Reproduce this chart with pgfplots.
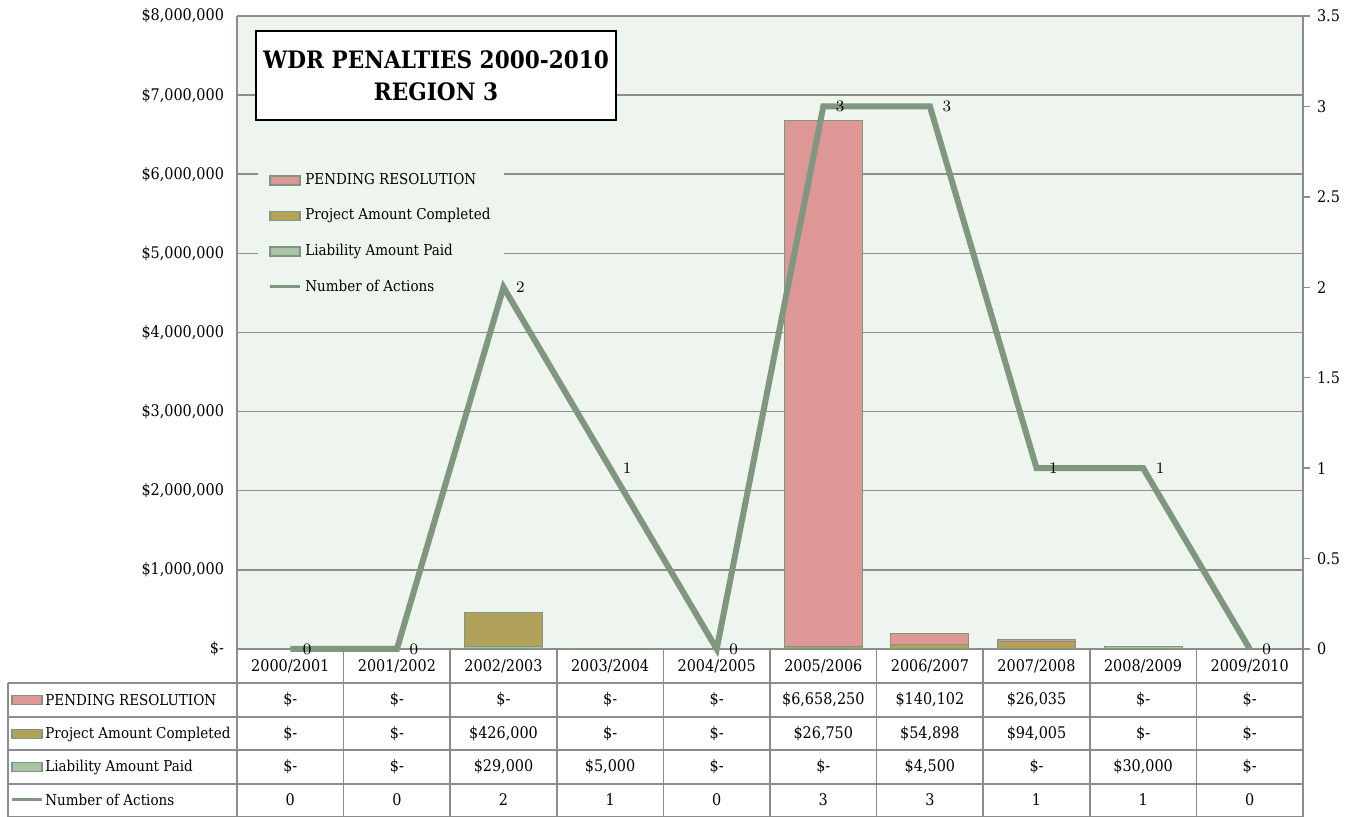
\documentclass[border=0pt]{standalone}
\usepackage{fontspec}
\setmainfont{DejaVu Serif Condensed}
\usepackage{pgfplots}
\pgfplotsset{compat=1.18}

\definecolor{bgc}{HTML}{EEF5EE}
\definecolor{pinkc}{HTML}{DD9797}
\definecolor{olivec}{HTML}{B1A15A}
\definecolor{greenc}{HTML}{A9C4A5}
\definecolor{linec}{HTML}{7F967F}
\definecolor{gridc}{HTML}{8C8C8C}

\pgfplotsset{
  barleg/.style={legend image code/.code={\draw[##1] (0pt,-2.25pt) rectangle (15pt,2.25pt);}},
  lineleg/.style={legend image code/.code={\draw[##1] (0pt,0pt) -- (15pt,0pt);}},
}

\begin{document}
\begin{tikzpicture}
% money axis (left)
\begin{axis}[
  at={(0,0)}, anchor=south west, scale only axis,
  width=533pt, height=316.5pt,
  xmin=-0.5, xmax=9.5, ymin=0, ymax=8000000,
  axis background/.style={fill=bgc},
  ybar stacked, bar width=39pt,
  xtick=\empty,
  ytick={0,1000000,2000000,3000000,4000000,5000000,6000000,7000000,8000000},
  yticklabels={{\$-},{\$1,000,000},{\$2,000,000},{\$3,000,000},{\$4,000,000},{\$5,000,000},{\$6,000,000},{\$7,000,000},{\$8,000,000}},
  scaled y ticks=false,
  ymajorgrids, grid style={gridc, line width=0.75pt},
  axis x line*=bottom, axis y line*=left,
  axis line style={gridc, line width=0.75pt, -},
  major tick length=0pt,
  yticklabel style={font=\fontsize{8}{9}\selectfont, xshift=-3pt},
  legend style={at={(0.0197,0.7775)}, anchor=north west, fill=bgc, draw=none,
    font=\fontsize{7.5}{9}\selectfont, row sep=6.6pt, inner xsep=5pt, inner ysep=6pt},
  legend cell align=left,
]
\addplot[fill=greenc, draw=linec, line width=0.5pt, forget plot] coordinates {(0,0) (1,0) (2,29000) (3,5000) (4,0) (5,0) (6,4500) (7,0) (8,30000) (9,0)};
\addplot[fill=olivec, draw=linec, line width=0.5pt, forget plot] coordinates {(0,0) (1,0) (2,426000) (3,0) (4,0) (5,26750) (6,54898) (7,94005) (8,0) (9,0)};
\addplot[fill=pinkc, draw=linec, line width=0.5pt, forget plot] coordinates {(0,0) (1,0) (2,0) (3,0) (4,0) (5,6658250) (6,140102) (7,26035) (8,0) (9,0)};
\addlegendimage{barleg, fill=pinkc, draw=linec, line width=0.75pt}
\addlegendentry{PENDING RESOLUTION}
\addlegendimage{barleg, fill=olivec, draw=linec, line width=0.75pt}
\addlegendentry{Project Amount Completed}
\addlegendimage{barleg, fill=greenc, draw=linec, line width=0.75pt}
\addlegendentry{Liability Amount Paid}
\addlegendimage{lineleg, draw=linec, line width=1.5pt}
\addlegendentry{Number of Actions}
\end{axis}
% count axis (right)
\begin{axis}[
  at={(0,0)}, anchor=south west, scale only axis,
  width=533pt, height=316.5pt,
  xmin=-0.5, xmax=9.5, ymin=0, ymax=3.5,
  axis x line=none, axis y line*=right,
  axis line style={gridc, line width=0.75pt, -},
  ytick={0,0.5,1,1.5,2,2.5,3,3.5},
  yticklabels={0,0.5,1,1.5,2,2.5,3,3.5},
  tick align=outside, major tick length=3.5pt,
  tick style={gridc, line width=0.75pt},
  yticklabel style={font=\fontsize{8}{9}\selectfont},
  clip=false,
]
\addplot[linec, line width=3pt, nodes near coords,
  every node near coord/.append style={anchor=west, xshift=1.5pt, black, font=\fontsize{8}{9}\selectfont}]
  coordinates {(0,0) (1,0) (2,2) (3,1) (4,0) (5,3) (6,3) (7,1) (8,1) (9,0)};
\end{axis}
% table and title, in pixel units of the reference
\begin{scope}[x=0.5pt, y=-0.5pt, shift={(-118.5pt,324.5pt)}]
\path[use as bounding box] (0,0) rectangle (1358,817);
\node[draw=black, line width=0.75pt, fill=white, minimum width=180pt, minimum height=44.5pt,
  inner xsep=1pt, align=center, font=\fontsize{12}{16}\selectfont\bfseries] at (436,75.5)
  {WDR PENALTIES 2000-2010\\REGION 3};
% grid of the data table
\foreach \k in {0,...,10} \draw[gridc, line width=0.75pt] ({237+106.6*\k},649) -- ({237+106.6*\k},817);
\foreach \yy in {683,717,750,784,817} \draw[gridc, line width=0.75pt] (8,\yy) -- (1303,\yy);
\draw[gridc, line width=0.75pt] (8,683) -- (8,817);
\begin{scope}[font=\fontsize{8}{9}\selectfont]
\foreach \c [count=\i from 0] in {2000/2001,2001/2002,2002/2003,2003/2004,2004/2005,2005/2006,2006/2007,2007/2008,2008/2009,2009/2010}
  \node at ({237+106.6*(\i+0.5)},666) {\c};
\foreach \v [count=\i from 0] in {{\$-},{\$-},{\$-},{\$-},{\$-},{\$6,658,250},{\$140,102},{\$26,035},{\$-},{\$-}}
  \node at ({237+106.6*(\i+0.5)},700) {\v};
\foreach \v [count=\i from 0] in {{\$-},{\$-},{\$426,000},{\$-},{\$-},{\$26,750},{\$54,898},{\$94,005},{\$-},{\$-}}
  \node at ({237+106.6*(\i+0.5)},734) {\v};
\foreach \v [count=\i from 0] in {{\$-},{\$-},{\$29,000},{\$5,000},{\$-},{\$-},{\$4,500},{\$-},{\$30,000},{\$-}}
  \node at ({237+106.6*(\i+0.5)},767) {\v};
\foreach \v [count=\i from 0] in {0,0,2,1,0,3,3,1,1,0}
  \node at ({237+106.6*(\i+0.5)},800) {\v};
\end{scope}
% row keys
\begin{scope}[font=\fontsize{7.5}{9}\selectfont]
\draw[fill=pinkc, draw=linec, line width=0.75pt] (12,695.5) rectangle (42,704.5);
\node[anchor=west, inner sep=0pt] at (45,700) {PENDING RESOLUTION};
\draw[fill=olivec, draw=linec, line width=0.75pt] (12,729.5) rectangle (42,738.5);
\node[anchor=west, inner sep=0pt] at (45,734) {Project Amount Completed};
\draw[fill=greenc, draw=linec, line width=0.75pt] (12,762.5) rectangle (42,771.5);
\node[anchor=west, inner sep=0pt] at (45,767) {Liability Amount Paid};
\draw[draw=linec, line width=1.5pt] (12,800) -- (42,800);
\node[anchor=west, inner sep=0pt] at (45,800) {Number of Actions};
\end{scope}
\end{scope}
\end{tikzpicture}
\end{document}
